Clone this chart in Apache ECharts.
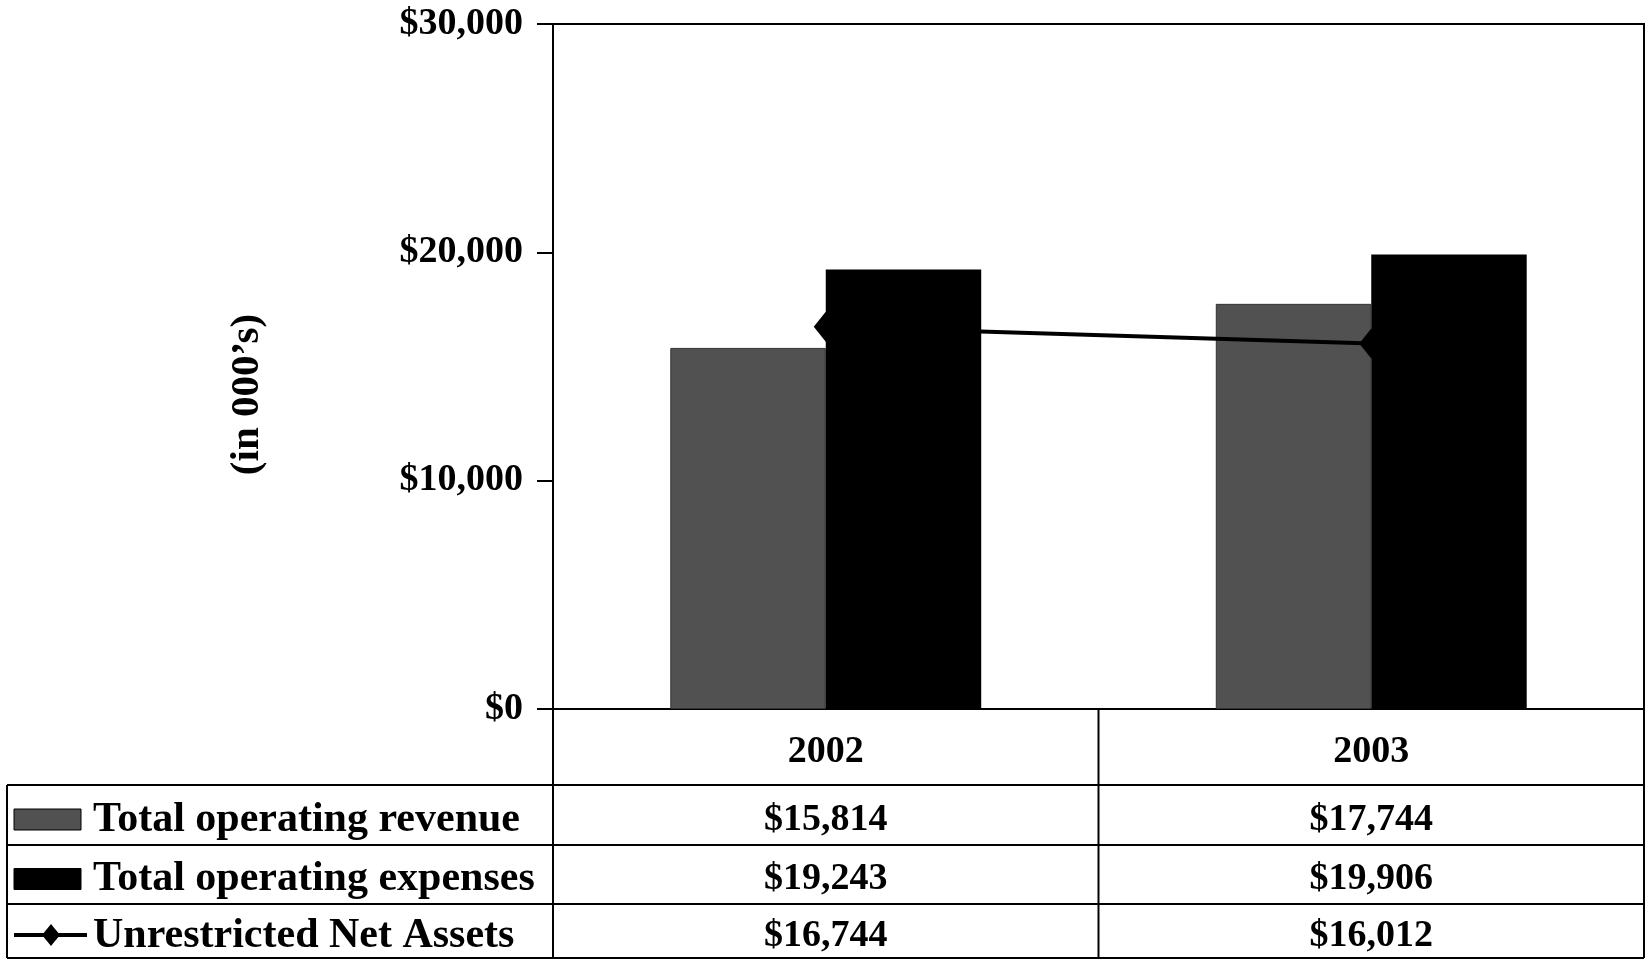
<!DOCTYPE html>
<html>
<head>
<meta charset="utf-8">
<script src="https://cdn.jsdelivr.net/npm/echarts@6/dist/echarts.min.js"></script>
<style>
html,body{margin:0;padding:0;background:#fff;}
#chart{width:1647px;height:960px;}
</style>
</head>
<body>
<div id="chart"></div>
<script>
// ---- data ----
const categories = ['2002', '2003'];
const revenue = [15814, 17744];
const expenses = [19243, 19906];
const netAssets = [16744, 16012];
const seriesNames = ['Total operating revenue', 'Total operating expenses', 'Unrestricted Net Assets'];
const yTicks = [0, 10000, 20000, 30000];
const yAxisName = '(in 000\u2019s)';

// ---- layout ----
const W = 1647, H = 960;
const G = {left: 553, right: 3, top: 24, bottom: 251};
const FONT = 'Liberation Serif';
const FS = 38;
const FS_LABEL = 42;
const FS_NAME = 41;
const REV_COLOR = '#515151';
const EXP_COLOR = '#000000';

function money(v) { return '$' + v.toLocaleString('en-US'); }

const chart = echarts.init(document.getElementById('chart'), null, {renderer: 'canvas'});

const gridRight = W - G.right;
const gridBottom = H - G.bottom;
const midX = (G.left + gridRight) / 2;
const rowTops = [gridBottom + 76, gridBottom + 136, gridBottom + 195, H - 2];
const tableLeft = 7;

const graphics = [];
const lineStyle = {stroke: '#000', lineWidth: 2};
rowTops.forEach(y => {
  graphics.push({type: 'line', shape: {x1: tableLeft, y1: y, x2: gridRight, y2: y}, style: lineStyle, silent: true});
});
[G.left, midX, gridRight].forEach(x => {
  graphics.push({type: 'line', shape: {x1: x, y1: gridBottom, x2: x, y2: rowTops[3]}, style: lineStyle, silent: true});
});
graphics.push({type: 'line', shape: {x1: tableLeft, y1: rowTops[0], x2: tableLeft, y2: rowTops[3]}, style: lineStyle, silent: true});

const rowData = [revenue, expenses, netAssets];
for (let r = 0; r < 3; r++) {
  const cy = (rowTops[r] + rowTops[r + 1]) / 2 + 5;
  if (r < 2) {
    graphics.push({type: 'rect', shape: {x: 14, y: cy - 11, width: 67, height: 21},
      style: {fill: r === 0 ? REV_COLOR : EXP_COLOR, stroke: '#000', lineWidth: 1}, silent: true});
  } else {
    graphics.push({type: 'line', shape: {x1: 14, y1: cy - 1, x2: 87, y2: cy - 1}, style: {stroke: '#000', lineWidth: 4}, silent: true});
    graphics.push({type: 'polygon', shape: {points: [[51, cy - 12], [60, cy - 1], [51, cy + 10], [42, cy - 1]]},
      style: {fill: '#000'}, silent: true});
  }
  graphics.push({type: 'text', x: 93, y: cy, silent: true,
    style: {text: seriesNames[r], font: 'bold ' + FS_LABEL + 'px "' + FONT + '"', fill: '#000', verticalAlign: 'middle', align: 'left'}});
  for (let c = 0; c < categories.length; c++) {
    const cx = G.left + (gridRight - G.left) * (c + 0.5) / categories.length;
    graphics.push({type: 'text', x: cx, y: cy, silent: true,
      style: {text: money(rowData[r][c]), font: 'bold ' + FS + 'px "' + FONT + '"', fill: '#000', verticalAlign: 'middle', align: 'center'}});
  }
}
graphics.push({type: 'text', x: 247, y: (G.top + gridBottom) / 2 + 28, rotation: Math.PI / 2, silent: true,
  style: {text: yAxisName, font: 'bold ' + FS_NAME + 'px "' + FONT + '"', fill: '#000', verticalAlign: 'middle', align: 'center'}});

const option = {
  animation: false,
  backgroundColor: '#fff',
  textStyle: {fontFamily: FONT},
  grid: {left: G.left, right: G.right, top: G.top, bottom: G.bottom, show: true, borderColor: '#000', borderWidth: 2, backgroundColor: 'transparent'},
  xAxis: {
    type: 'category', data: categories,
    axisLine: {lineStyle: {color: '#000', width: 2}},
    axisTick: {show: false},
    axisLabel: {color: '#000', fontFamily: FONT, fontWeight: 'bold', fontSize: FS, margin: 24}
  },
  yAxis: {
    type: 'value', min: yTicks[0], max: yTicks[yTicks.length - 1], interval: yTicks[1] - yTicks[0],
    axisLine: {show: true, lineStyle: {color: '#000', width: 2}},
    axisTick: {show: true, length: 16, lineStyle: {color: '#000', width: 2}},
    splitLine: {show: false},
    axisLabel: {color: '#000', fontFamily: FONT, fontWeight: 'bold', fontSize: FS, margin: 30,
      formatter: v => money(v)}
  },
  series: [
    {name: seriesNames[0], type: 'bar', data: revenue, barGap: '0%', barCategoryGap: '43%',
      itemStyle: {color: REV_COLOR, borderColor: '#333', borderWidth: 1}, z: 2},
    {name: seriesNames[1], type: 'bar', data: expenses, barGap: '0%', barCategoryGap: '43%',
      itemStyle: {color: EXP_COLOR}, z: 2},
    {name: seriesNames[2], type: 'line', data: netAssets, symbol: 'diamond', symbolSize: [24, 30],
      lineStyle: {color: '#000', width: 4}, itemStyle: {color: '#000'}, z: 5}
  ],
  graphic: graphics
};
chart.setOption(option);
</script>
</body>
</html>
